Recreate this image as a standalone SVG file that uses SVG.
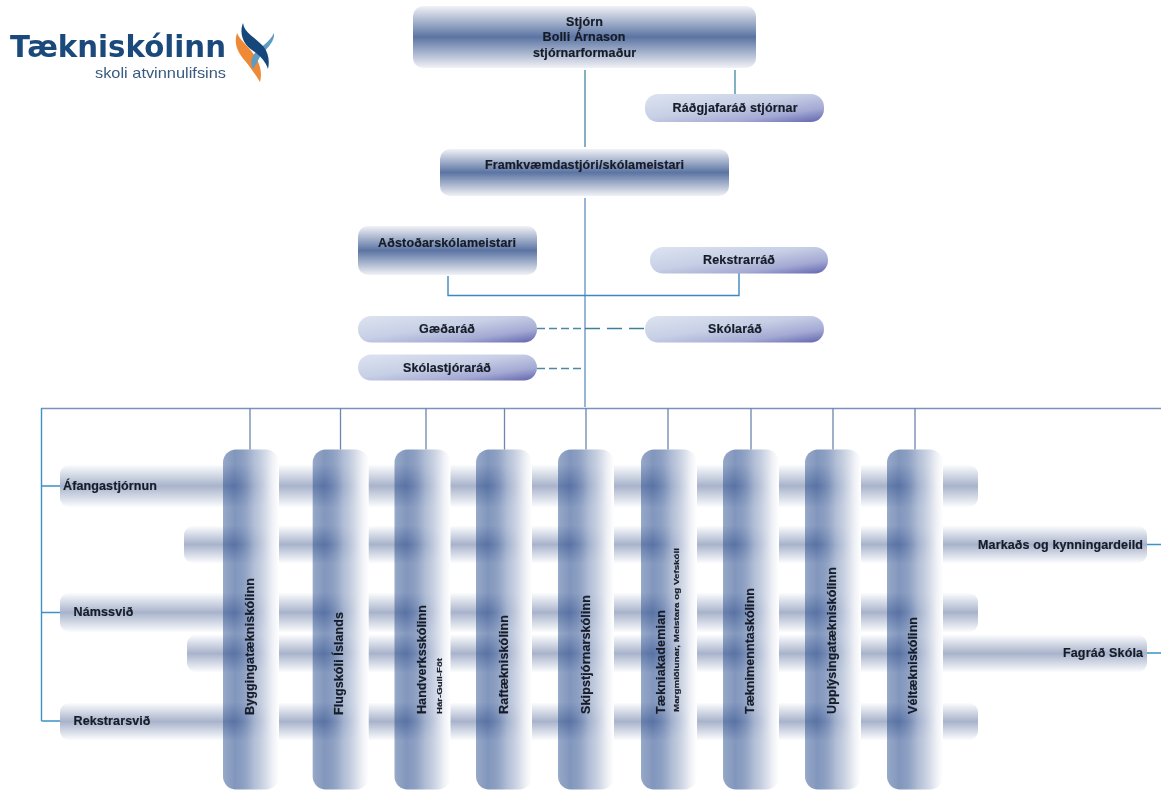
<svg xmlns="http://www.w3.org/2000/svg" width="1161" height="790" viewBox="0 0 1161 790">
<style>
text{font-family:"Liberation Sans",Arial,sans-serif;font-weight:700;fill:#151b28;font-size:12.5px;stroke:#151b28;stroke-width:.18}
.m{text-anchor:middle}
.e{text-anchor:end}
.t{font-size:8px}
.box{fill:url(#gBox)}
.pill{fill:url(#gPill)}
.bar{fill:url(#gBar)}
.col{fill:url(#gCol)}
.l{fill:none;stroke:#4f8fa8;stroke-width:1.4}
.k{fill:none;stroke:#3d88bd;stroke-width:1.4}
.u{fill:none;stroke:#7ea3cf;stroke-width:1.6}
.b{fill:none;stroke:#7c92be;stroke-width:1.6}
.d{fill:none;stroke:#4f86a6;stroke-width:1.5;stroke-dasharray:8 4}
.d2{fill:none;stroke:#3f7f9c;stroke-width:1.5;stroke-dasharray:15 7}
.c{fill:none;stroke:#6f86ad;stroke-width:1.3}
.g{fill:none;stroke:#3a93c4;stroke-width:1.4}
</style>
<defs>
<filter id="soft" filterUnits="userSpaceOnUse" x="0" y="0" width="1161" height="790"><feGaussianBlur stdDeviation=".55"/></filter>
<linearGradient id="gBox" x1="0" y1="0" x2="0" y2="1">
<stop offset="0" stop-color="#f1f2f6"/><stop offset=".5" stop-color="#5b74a3"/><stop offset="1" stop-color="#f1f2f6"/>
</linearGradient>
<linearGradient id="gPill" x1="0" y1="0" x2="1" y2="1">
<stop offset="0" stop-color="#dde3f0"/><stop offset=".45" stop-color="#c6cfe5"/><stop offset=".75" stop-color="#a3a9d3"/><stop offset="1" stop-color="#5f62ad"/>
</linearGradient>
<linearGradient id="gBar" x1="0" y1="0" x2="0" y2="1">
<stop offset="0" stop-color="#fbfcfd"/><stop offset=".5" stop-color="#a8b3cb"/><stop offset="1" stop-color="#fbfcfd"/>
</linearGradient>
<linearGradient id="gCol" x1="0" y1="0" x2="1" y2="0">
<stop offset="0" stop-color="#1e4488" stop-opacity=".46"/><stop offset=".2" stop-color="#113881" stop-opacity=".52"/><stop offset=".55" stop-color="#a0afcc" stop-opacity=".82"/><stop offset=".88" stop-color="#eef0f5" stop-opacity="1"/><stop offset="1" stop-color="#ffffff" stop-opacity="1"/>
</linearGradient>
<rect id="cb" x="0" y="449.500" width="56" height="340" rx="13"/>
</defs>
<g filter="url(#soft)">
<g id="logo">
<text x="10" y="57" textLength="216" lengthAdjust="spacingAndGlyphs" style="font-family:'DejaVu Sans',sans-serif;font-size:31px;font-weight:700;fill:#1a4a7c;stroke:none">Tækniskólinn</text>
<text x="95" y="78" textLength="131" lengthAdjust="spacingAndGlyphs" style="font-size:14.5px;font-weight:400;fill:#3a5a80;stroke:none">skoli atvinnulifsins</text>
<path fill="#ee8a35" d="M237 33C241 42 250 47 256 58C261 66 262 75 260 82C256 75 252 70 246 62C239 54 233 45 237 33Z"/>
<path fill="#5f9cc4" d="M274 33C275 42 266 49 261 55C258 60 256 65 253 69C250 63 251 58 255 53C260 47 269 43 274 33Z"/>
<path fill="#17467a" d="M243 23C244 33 256 38 263 46C268 52 270 60 268 69C265 60 259 55 252 50C243 44 239 33 243 23Z"/>
</g>

<g id="connectors">
<path class="l" d="M585 70V147M735 70V95"/>
<path class="u" d="M585 198V407"/>
<path class="k" d="M448 276V295.500H739V273"/>
<path class="d" d="M537 328.500H585M537 368.500H585"/>
<path class="d2" d="M585 328.500H645"/>
<path class="b" d="M41 408.500H1161"/>
<path class="g" d="M41.500 408V721M41.500 486H60M41.500 612.500H60M41.500 721H60M1147 544.500H1161M1147 653H1161"/>
<path class="c" d="M250 408V449.500M340.500 408V449.500M426 408V449.500M504.500 408V449.500M586 408V449.500M668 408V449.500M751 408V449.500M833 408V449.500M915 408V449.500"/>
</g>

<g id="n-stjorn"><rect class="box" x="413" y="6" width="343" height="62" rx="10"/><text class="m" x="584.500" y="26" textLength="37">Stjórn</text><text class="m" x="584" y="41" textLength="83">Bolli Árnason</text><text class="m" x="584.500" y="57" textLength="103">stjórnarformaður</text></g>
<g id="n-radgjafarad"><rect class="pill" x="645" y="94" width="179" height="28" rx="13"/><text class="m" x="735" y="112" textLength="125">Ráðgjafaráð stjórnar</text></g>
<g id="n-framkv"><rect class="box" x="440" y="149" width="289" height="47" rx="10"/><text class="m" x="584.500" y="169" textLength="199">Framkvæmdastjóri/skólameistari</text></g>
<g id="n-adstodar"><rect class="box" x="358" y="226" width="179" height="49" rx="10"/><text class="m" x="447" y="247" textLength="138">Aðstoðarskólameistari</text></g>
<g id="n-rekstrarrad"><rect class="pill" x="650" y="247" width="178" height="26.500" rx="13"/><text class="m" x="739" y="264" textLength="72">Rekstrarráð</text></g>
<g id="n-gaedarad"><rect class="pill" x="358" y="316" width="179" height="26.500" rx="13"/><text class="m" x="447" y="333" textLength="56">Gæðaráð</text></g>
<g id="n-skolarad"><rect class="pill" x="645" y="316" width="179" height="26.500" rx="13"/><text class="m" x="735" y="333" textLength="54">Skólaráð</text></g>
<g id="n-skolastjorarad"><rect class="pill" x="358" y="354.500" width="179" height="26" rx="13"/><text class="m" x="447" y="372" textLength="88">Skólastjóraráð</text></g>

<g id="n-afangastjornun"><rect class="bar" x="60" y="465" width="918" height="42" rx="9"/><text x="63" y="490" textLength="94">Áfangastjórnun</text></g>
<g id="n-markads"><rect class="bar" x="184" y="526" width="963" height="37" rx="9"/><text class="e" x="1143" y="549" textLength="165">Markaðs og kynningardeild</text></g>
<g id="n-namssvid"><rect class="bar" x="60" y="593" width="918" height="39" rx="9"/><text x="73.500" y="616" textLength="60">Námssvið</text></g>
<g id="n-fagrad"><rect class="bar" x="187" y="635" width="960" height="37" rx="9"/><text class="e" x="1143" y="657" textLength="80">Fagráð Skóla</text></g>
<g id="n-rekstrarsvid"><rect class="bar" x="60" y="703" width="918" height="37" rx="9"/><text x="73.500" y="725" textLength="77">Rekstrarsvið</text></g>

<g id="n-bygg"><use href="#cb" x="223" class="col"/><text transform="translate(253.500 715) rotate(-90)" textLength="137">Byggingatækniskólinn</text></g>
<g id="n-flug"><use href="#cb" x="312.700" class="col"/><text transform="translate(343 715) rotate(-90)" textLength="103">Flugskóli Íslands</text></g>
<g id="n-handv"><use href="#cb" x="394.500" class="col"/><text transform="translate(426 714) rotate(-90)" textLength="109">Handverksskólinn</text><text class="t" transform="translate(442 714) rotate(-90)" textLength="56" lengthAdjust="spacingAndGlyphs">Hár-Gull-Föt</text></g>
<g id="n-raft"><use href="#cb" x="476" class="col"/><text transform="translate(508 714) rotate(-90)" textLength="99">Raftækniskólinn</text></g>
<g id="n-skip"><use href="#cb" x="558" class="col"/><text transform="translate(589.500 714) rotate(-90)" textLength="119">Skipstjórnarskólinn</text></g>
<g id="n-taekniak"><use href="#cb" x="641" class="col"/><text transform="translate(665 714) rotate(-90)" textLength="104">Tækniakademian</text><text class="t" transform="translate(679 712) rotate(-90)" textLength="164" lengthAdjust="spacingAndGlyphs">Margmiðlunar, Meistara og Vefskóli</text></g>
<g id="n-taeknim"><use href="#cb" x="723" class="col"/><text transform="translate(754 714) rotate(-90)" textLength="126">Tæknimenntaskólinn</text></g>
<g id="n-uppl"><use href="#cb" x="805" class="col"/><text transform="translate(836 714) rotate(-90)" textLength="147">Upplýsingatækniskólinn</text></g>
<g id="n-velt"><use href="#cb" x="887" class="col"/><text transform="translate(917 714) rotate(-90)" textLength="97">Véltækniskólinn</text></g>
</g>
</svg>
